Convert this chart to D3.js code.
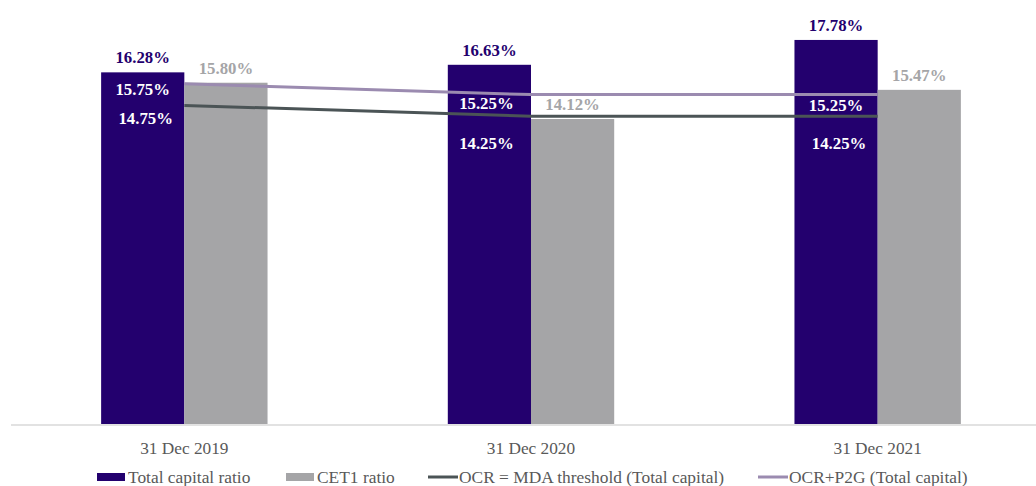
<!DOCTYPE html>
<html>
<head>
<meta charset="utf-8">
<script src="https://cdn.jsdelivr.net/npm/d3@7"></script>
<style>
  html, body { margin: 0; padding: 0; background: #fff; }
  svg { display: block; }
  text { font-family: "Liberation Serif", "Times New Roman", "DejaVu Serif", serif; }
</style>
</head>
<body>
<svg id="chart" width="1036" height="486"></svg>
<script>
// Capital ratios by reporting date
const categories = ["31 Dec 2019", "31 Dec 2020", "31 Dec 2021"];
const totalCapital = [16.28, 16.63, 17.78];
const cet1 = [15.80, 14.12, 15.47];
const ocrMda = [14.75, 14.25, 14.25];
const ocrP2g = [15.75, 15.25, 15.25];
const seriesNames = ["Total capital ratio", "CET1 ratio", "OCR = MDA threshold (Total capital)", "OCR+P2G (Total capital)"];

const colors = {
  total: "#23006e",
  cet1: "#a5a5a7",
  mda: "#4b5456",
  p2g: "#9b8bb0",
  axis: "#d9d9d9",
  text: "#595959"
};

// Nudges for the line labels (px), placed over the purple bars
const p2gLabelShift = [{dx: 0, dy: 5}, {dx: -3, dy: 8.5}, {dx: 0, dy: 10}];
const mdaLabelShift = [{dx: 3, dy: 13}, {dx: -3, dy: 27}, {dx: 3, dy: 27}];

const svg = d3.select("#chart");
const baseY = 424;

const x0 = d3.scaleBand()
  .domain(categories)
  .range([11, 1051])
  .paddingInner(0.52)
  .paddingOuter(0.26);

const x1 = d3.scaleBand()
  .domain(["total", "cet1"])
  .range([0, x0.bandwidth()])
  .padding(0);

const y = d3.scaleLinear()
  .domain([0, 20])
  .range([baseY, baseY - 20 * 21.6]);

const fmt = v => v.toFixed(2) + "%";
const center = c => x0(c) + x0.bandwidth() / 2;

// Bars
const groups = svg.append("g").selectAll("g")
  .data(categories)
  .join("g")
  .attr("transform", c => `translate(${x0(c)},0)`);

groups.append("rect")
  .attr("x", x1("total"))
  .attr("width", x1.bandwidth())
  .attr("y", (c, i) => y(totalCapital[i]))
  .attr("height", (c, i) => y(0) - y(totalCapital[i]))
  .attr("fill", colors.total);

groups.append("rect")
  .attr("x", x1("cet1"))
  .attr("width", x1.bandwidth())
  .attr("y", (c, i) => y(cet1[i]))
  .attr("height", (c, i) => y(0) - y(cet1[i]))
  .attr("fill", colors.cet1);

// Category axis
const xAxis = d3.axisBottom(x0).tickSize(0).tickPadding(17);
const axisG = svg.append("g")
  .attr("transform", `translate(0,${baseY + 1})`)
  .call(xAxis)
  .attr("font-family", null);
axisG.select(".domain").remove();
axisG.append("line")
  .attr("x1", 11).attr("x2", 1036)
  .attr("y1", 0).attr("y2", 0)
  .attr("stroke", colors.axis)
  .attr("stroke-width", 1.5);
axisG.selectAll(".tick text")
  .attr("font-size", 17.3)
  .attr("fill", colors.text);

// Threshold lines
const line = d3.line()
  .x((d, i) => center(categories[i]))
  .y(d => y(d));

svg.append("path")
  .datum(ocrMda)
  .attr("d", line)
  .attr("fill", "none")
  .attr("stroke", colors.mda)
  .attr("stroke-width", 3);

svg.append("path")
  .datum(ocrP2g)
  .attr("d", line)
  .attr("fill", "none")
  .attr("stroke", colors.p2g)
  .attr("stroke-width", 3);

// Bar value labels
const labels = svg.append("g")
  .attr("font-size", 16.8)
  .attr("font-weight", "bold")
  .attr("text-anchor", "middle");

labels.selectAll("text.total")
  .data(totalCapital)
  .join("text")
  .attr("class", "total")
  .attr("x", (d, i) => x0(categories[i]) + x1("total") + x1.bandwidth() / 2)
  .attr("y", d => y(d) - 9)
  .attr("fill", colors.total)
  .text(fmt);

labels.selectAll("text.cet1")
  .data(cet1)
  .join("text")
  .attr("class", "cet1")
  .attr("x", (d, i) => x0(categories[i]) + x1("cet1") + x1.bandwidth() / 2)
  .attr("y", d => y(d) - 9)
  .attr("fill", colors.cet1)
  .text(fmt);

// Line value labels, drawn in white over the purple bars
labels.selectAll("text.p2g")
  .data(ocrP2g)
  .join("text")
  .attr("class", "p2g")
  .attr("x", (d, i) => x0(categories[i]) + x1("total") + x1.bandwidth() / 2 + p2gLabelShift[i].dx)
  .attr("y", (d, i) => y(d) + p2gLabelShift[i].dy + 6)
  .attr("fill", "#ffffff")
  .text(fmt);

labels.selectAll("text.mda")
  .data(ocrMda)
  .join("text")
  .attr("class", "mda")
  .attr("x", (d, i) => x0(categories[i]) + x1("total") + x1.bandwidth() / 2 + mdaLabelShift[i].dx)
  .attr("y", (d, i) => y(d) + mdaLabelShift[i].dy + 6)
  .attr("fill", "#ffffff")
  .text(fmt);

// Legend
const legendItems = [
  {name: seriesNames[0], kind: "rect", color: colors.total, x: 97},
  {name: seriesNames[1], kind: "rect", color: colors.cet1, x: 286},
  {name: seriesNames[2], kind: "line", color: colors.mda, x: 428},
  {name: seriesNames[3], kind: "line", color: colors.p2g, x: 758}
];
const legendY = 477;
const legend = svg.append("g");
legendItems.forEach(it => {
  const g = legend.append("g").attr("transform", `translate(${it.x},${legendY})`);
  if (it.kind === "rect") {
    g.append("rect").attr("x", 0).attr("y", -4).attr("width", 28).attr("height", 8).attr("fill", it.color);
  } else {
    g.append("line").attr("x1", 0).attr("x2", 30).attr("y1", 0).attr("y2", 0)
      .attr("stroke", it.color).attr("stroke-width", 3);
  }
  g.append("text")
    .attr("x", 31)
    .attr("y", 6)
    .attr("font-size", 17.4)
    .attr("fill", colors.text)
    .text(it.name);
});
</script>
</body>
</html>
